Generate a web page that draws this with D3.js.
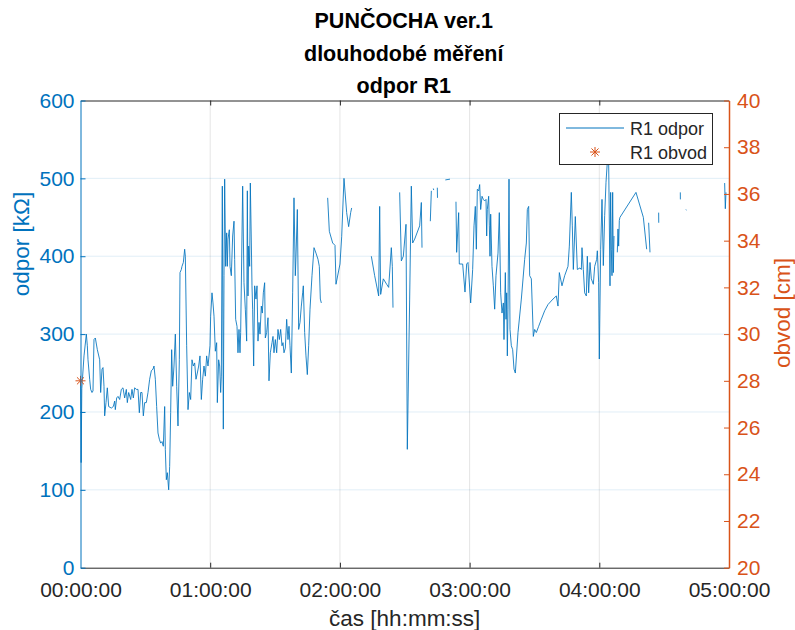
<!DOCTYPE html>
<html>
<head>
<meta charset="utf-8">
<script src="https://cdn.jsdelivr.net/npm/d3@7/dist/d3.min.js"></script>
<style>
  body { margin: 0; background: #fff; }
  text { font-family: "Liberation Sans", Arial, Helvetica, sans-serif; }
</style>
</head>
<body>
<svg id="chart" width="795" height="630"></svg>
<script>
// Elapsed time in minutes and measured resistance R1 [kΩ]; null marks a gap in logging
const casMin = [
  0, 0.3, 0.6, 1.62, 2.70, 3.16, 3.47, 4.24, 4.70, 5.32, 5.78, 6.24, 6.86, 7.79, 8.87, 9.33, 9.95, 10.41, 10.87, 11.18,
  11.80, 12.41, 13.03, 14.26, 15.19, 15.81, 16.11, 16.73, 17.35, 18.12, 18.89, 19.66, 20.43, 21.20, 21.66, 22.28, 23.21, 23.82, 24.44, 25.06,
  25.83, 26.60, 27.22, 27.83, 28.45, 29.07, 29.68, 30.45, 31.22, 31.99, 32.77, 33.54, 34.00, 34.62, 35.23, 35.85, 36.47, 37.09, 37.70, 38.32,
  38.94, 39.24, 39.71, 40.17, 40.79, 41.25, 41.71, 42.17, 42.64, 43.25, 43.87, 44.49, 45.10, 45.72, 46.03, 46.65, 46.95, 47.57, 48.19, 48.50,
  49.11, 49.73, 50.35, 50.96, 51.58, 52.20, 52.81, 53.43, 54.05, 54.66, 55.28, 55.90, 56.51, 57.13, 57.75, 58.36, 58.98, 59.91,
  60.21, 60.83, 61.29, 61.76, 62.37, 62.99, 63.30, 63.91, 64.38, 64.84, 65.15, 65.61, 66.07, 66.38, 66.69, 67.15, 67.62, 67.92, 68.23, 68.85,
  69.16, 69.77, 70.39, 71.01, 71.32, 71.78, 72.40, 72.86, 73.32, 73.78, 74.09, 75.02, 75.63, 76.25, 76.87, 77.18, 77.48, 77.79, 78.26, 78.56,
  79.03, 79.33, 79.64, 80.11, 80.57, 81.18, 81.65, 82.11, 82.57, 83.04, 83.65, 84.11, 84.58, 85.19, 85.50, 86.12, 86.74, 87.20, 87.82, 88.59,
  89.05, 89.51, 90.13, 90.75, 91.36, 91.98, 92.60, 93.21, 93.68, 94.14, 94.75, 95.37, 95.99, 96.45, 96.91, 97.53, 98.15, 98.76, 99.38, 99.69,
  100.31, 100.92, 101.54, 102.16, 102.77, 103.08, 103.70, 104.31, 104.93, 105.55, 106.17, 107.09, 108.02, 108.94, 109.87, 110.48, 110.95, 111.41,
  112.9,
  114.34, 115.11, 116.65, 117.73, 118.19, 120.04, 120.82, 121.89, 123.13, 124.05, 124.98, 125.44,
  130.0,
  134.54, 136.08, 137.93, 138.40, 138.86, 140.09, 141.63, 142.56, 143.79, 144.25, 144.56,
  146.1,
  147.65, 148.42, 149.34, 150.58, 151.19, 152.27, 153.04, 153.66, 154.59, 156.90, 157.67, 157.98,
  160.0,
  161.83, 162.30,
  162.8,
  163.22, 163.40,
  164.2,
  165.07, 165.15,
  167.0,
  168.77, 170.93,
  172.3,
  173.70, 174.01, 174.94, 175.24, 176.79, 177.87, 178.64,
  179.26, 180.49, 181.42, 182.04, 182.65, 183.12, 183.58, 184.19, 184.66, 185.12, 185.74, 186.35, 186.97, 187.59, 187.90, 188.20, 188.82, 189.13,
  189.44, 189.75, 190.36, 190.98, 191.60, 192.21, 193.14, 193.75, 194.37, 194.99, 195.61, 195.91, 196.53, 196.84, 197.15, 197.46, 197.76, 198.23,
  198.69, 199.31, 199.92, 200.54, 201.16, 202.39, 203.93, 205.47, 206.25, 206.71, 207.32, 207.79, 208.56, 209.48, 210.10, 210.87, 211.95, 213.18,
  214.73, 216.27, 218.58, 220.12, 220.89, 221.51, 222.74, 223.98, 225.52, 226.14, 227.06, 227.52, 227.99, 228.91, 229.84, 231.07, 231.69, 231.99,
  232.61, 233.23, 234.00, 234.46, 235.08, 235.70, 236.31, 237.24, 237.86, 238.78,
  239.09, 239.70, 240.01, 240.63, 241.25, 241.86, 242.48, 243.10, 243.71, 244.33, 244.95, 245.25, 245.56, 245.87, 246.18, 246.49, 246.80,
  247.6,
  248.34, 248.65, 248.96, 249.26, 249.57, 256.97, 260.37, 261.91,
  262.4,
  262.83, 263.45,
  265.0,
  267.46, 267.50,
  272.0,
  277.48, 277.50,
  279.0,
  280.10, 280.30,
  290.0,
  297.99, 298.30, 298.60
];

const odpor = [
  245, 135, 230, 272, 300, 285, 267, 242, 229, 225, 227, 293, 295, 280, 267, 225, 255, 257, 233, 195,
  212, 231, 207, 205, 207, 214, 203, 218, 220, 216, 229, 231, 218, 229, 212, 225, 216, 229, 218, 231,
  229, 229, 199, 225, 225, 195, 212, 212, 225, 242, 253, 255, 259, 242, 207, 173, 165, 160, 162, 156,
  207, 152, 113, 122, 100, 130, 199, 280, 233, 259, 300, 233, 182, 267, 379, 383, 387, 392, 409, 400,
  285, 203, 225, 216, 267, 259, 263, 242, 250, 259, 272, 216, 242, 259, 246, 272, 259, 285,
  323, 353, 340, 323, 278, 289, 212, 267, 259, 225, 246, 490, 178, 375, 499, 387, 430, 387, 422, 434,
  387, 375, 426, 445, 396, 319, 310, 276, 306, 276, 302, 490, 366, 332, 291, 484, 349, 413, 387, 494,
  417, 362, 332, 259, 362, 345, 362, 291, 315, 300, 336, 327, 353, 366, 295, 302, 321, 240, 276, 289,
  297, 276, 293, 276, 306, 293, 306, 285, 289, 276, 282, 319, 293, 310, 285, 250, 353, 475, 375, 400,
  460, 306, 315, 336, 353, 362, 302, 272, 248, 285, 332, 375, 411, 404, 396, 387, 345, 340,
  null,
  475, 432, 417, 414, 364, 390, 425, 500, 456, 438, 456, 462,
  null,
  400, 375, 349, 464, 351, 371, 364, 360, 411, 387, 334,
  null,
  482, 394, 400, 441, 152, 345, 490, 417, 422, 439, 469, 411,
  null,
  445, 484,
  null,
  487, 485,
  null,
  488, 475,
  null,
  498, 499,
  null,
  470, 405, 456, 390, 390, 354, 390,
  392, 340, 383, 439, 464, 409, 486, 484, 492, 460, 477, 473, 471, 473, 426, 460, 477, 439,
  400, 454, 387, 362, 332, 375, 404, 456, 353, 327, 340, 293, 379, 319, 353, 272, 332, 499,
  306, 285, 280, 255, 250, 302, 345, 396, 417, 460, 464, 375, 371, 297, 306, 302, 310, 319,
  330, 338, 345, 349, 336, 379, 362, 375, 387, 413, 482, 439, 383, 451, 383, 385, 383, 411,
  383, 353, 349, 400, 353, 392, 371, 364, 387, 396,
  407, 366, 268, 409, 473, 388, 452, 495, 521, 521, 362, 482, 409, 375, 482, 379, 426,
  null,
  405, 435, 413, 446, 450, 482, 450, 409,
  null,
  443, 405,
  null,
  456, 443,
  null,
  482, 473,
  null,
  460, 459,
  null,
  494, 461, 482
];

// Circumference measurement [cm]
const obvodCas = [0];
const obvod = [28];

// Axis ticks and labels
const casTicks = [0, 60, 120, 180, 240, 300];
const casLabels = ["00:00:00", "01:00:00", "02:00:00", "03:00:00", "04:00:00", "05:00:00"];
const odporTicks = [0, 100, 200, 300, 400, 500, 600];
const obvodTicks = [20, 22, 24, 26, 28, 30, 32, 34, 36, 38, 40];

const titleLines = ["PUNČOCHA ver.1", "dlouhodobé měření", "odpor R1"];
const blue = "#0072BD";
const orange = "#D95319";
const dark = "#262626";
const FONT = "Liberation Sans, Arial, sans-serif";

const svg = d3.select("#chart");
const L = 80.5, R = 729, T = 100.5, B = 567.7;

const x = d3.scaleLinear().domain([0, 300]).range([L, R]);
const yL = d3.scaleLinear().domain([0, 600]).range([B, T]);
const yR = d3.scaleLinear().domain([20, 40]).range([B, T]);

// Grid
const grid = svg.append("g");
grid.selectAll("line.gx").data(casTicks.slice(1, -1)).join("line")
  .attr("x1", d => x(d)).attr("x2", d => x(d)).attr("y1", T).attr("y2", B)
  .attr("stroke", "#262626").attr("stroke-opacity", 0.12).attr("stroke-width", 1);
grid.selectAll("line.gy").data(odporTicks.slice(1, -1)).join("line")
  .attr("x1", L).attr("x2", R).attr("y1", d => yL(d)).attr("y2", d => yL(d))
  .attr("stroke", blue).attr("stroke-opacity", 0.12).attr("stroke-width", 1);

// Data line
const pts = casMin.map((t, i) => ({ t, v: odpor[i] }));
const line = d3.line().defined(d => d.v !== null).x(d => x(d.t)).y(d => yL(d.v));
svg.append("path").datum(pts)
  .attr("d", line).attr("fill", "none").attr("stroke", blue)
  .attr("stroke-width", 1).attr("stroke-opacity", 0.85).attr("stroke-linejoin", "round");

// Asterisk marker
function asterisk(g, cx, cy, r) {
  const a = r * 0.7071;
  const segs = [[-r, 0, r, 0], [0, -r, 0, r], [-a, -a, a, a], [-a, a, a, -a]];
  segs.forEach(s => g.append("line")
    .attr("x1", cx + s[0]).attr("y1", cy + s[1]).attr("x2", cx + s[2]).attr("y2", cy + s[3])
    .attr("stroke", orange).attr("stroke-width", 1));
}
obvodCas.forEach((t, i) => asterisk(svg.append("g"), x(t), yR(obvod[i]), 5));

// Axes
const axB = svg.append("g").attr("transform", `translate(0,${B})`)
  .call(d3.axisBottom(x).tickValues(casTicks).tickFormat((d, i) => casLabels[i]).tickSizeInner(-5).tickSizeOuter(0).tickPadding(14));
const axT = svg.append("g").attr("transform", `translate(0,${T})`)
  .call(d3.axisTop(x).tickValues(casTicks).tickFormat("").tickSizeInner(-5).tickSizeOuter(0));
const axL = svg.append("g").attr("transform", `translate(${L},0)`)
  .call(d3.axisLeft(yL).tickValues(odporTicks).tickSizeInner(-5).tickSizeOuter(0).tickPadding(6));
const axR = svg.append("g").attr("transform", `translate(${R},0)`)
  .call(d3.axisRight(yR).tickValues(obvodTicks).tickSizeInner(-5).tickSizeOuter(0).tickPadding(8));

[axB, axT].forEach(a => {
  a.select(".domain").attr("stroke", dark).attr("stroke-width", 1);
  a.selectAll(".tick line").attr("stroke", dark);
  a.selectAll(".tick text").attr("fill", dark).attr("font-size", 21).attr("font-family", FONT);
});
axL.select(".domain").attr("stroke", blue).attr("stroke-width", 1);
axL.selectAll(".tick line").attr("stroke", blue);
axL.selectAll(".tick text").attr("fill", blue).attr("font-size", 21).attr("font-family", FONT);
axR.select(".domain").attr("stroke", orange).attr("stroke-width", 1.5);
axR.selectAll(".tick line").attr("stroke", orange);
axR.selectAll(".tick text").attr("fill", orange).attr("font-size", 21).attr("font-family", FONT);
// the end ticks coincide with the frame
axB.selectAll(".tick line").filter(d => d === 0 || d === 300).remove();
axT.selectAll(".tick line").filter(d => d === 0 || d === 300).remove();

// Axis titles
svg.append("text").attr("x", (L + R) / 2).attr("y", 626).attr("text-anchor", "middle")
  .attr("font-size", 22.5).attr("fill", dark).text("čas [hh:mm:ss]");
svg.append("text").attr("transform", "translate(29,244) rotate(-90)").attr("text-anchor", "middle")
  .attr("font-size", 22.5).attr("fill", blue).text("odpor [kΩ]");
svg.append("text").attr("transform", "translate(790,313) rotate(-90)").attr("text-anchor", "middle")
  .attr("font-size", 22.5).attr("fill", orange).text("obvod [cm]");

// Title
const tY = [28, 61, 93];
titleLines.forEach((s, i) => svg.append("text").attr("x", (L + R) / 2 - 1).attr("y", tY[i])
  .attr("text-anchor", "middle").attr("font-size", 21.5).attr("font-weight", "bold").attr("fill", "#000").text(s));

// Legend
const lg = svg.append("g");
lg.append("rect").attr("x", 559.5).attr("y", 113.5).attr("width", 153).attr("height", 51)
  .attr("fill", "#fff").attr("stroke", dark).attr("stroke-width", 1);
lg.append("line").attr("x1", 566).attr("x2", 624).attr("y1", 128).attr("y2", 128)
  .attr("stroke", blue).attr("stroke-width", 1);
asterisk(lg, 595, 152, 5);
lg.append("text").attr("x", 630).attr("y", 135).attr("font-size", 18).attr("fill", dark).text("R1 odpor");
lg.append("text").attr("x", 630).attr("y", 158.5).attr("font-size", 18).attr("fill", dark).text("R1 obvod");
</script>
</body>
</html>
